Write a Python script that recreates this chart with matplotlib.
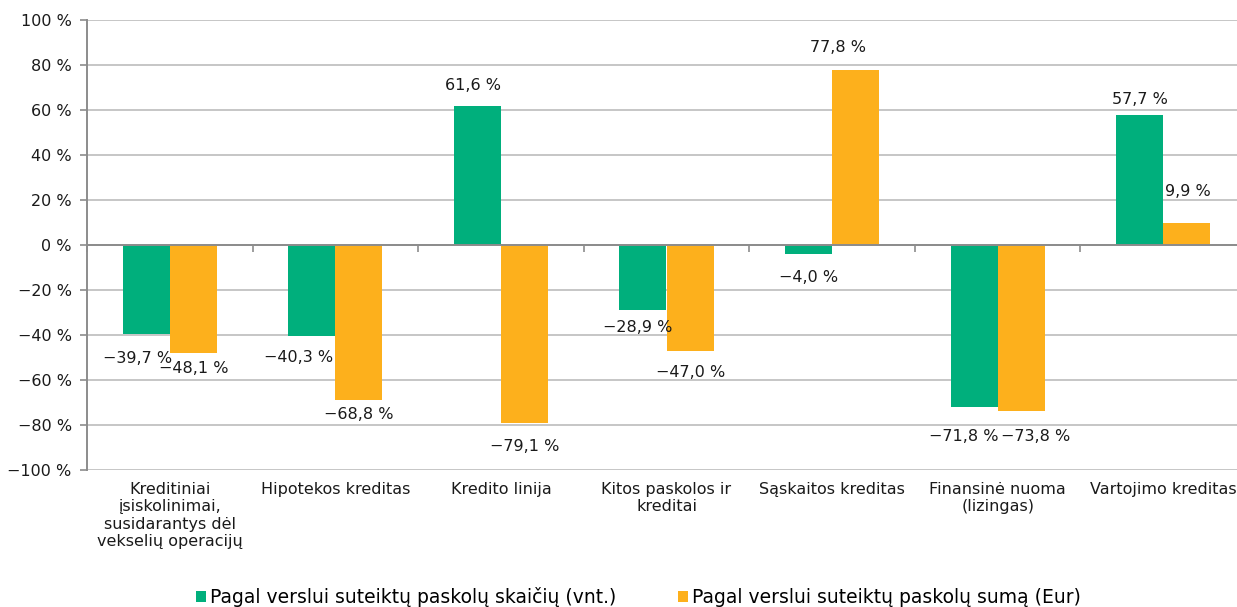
import matplotlib
matplotlib.use("Agg")
import matplotlib.pyplot as plt
import numpy as np

categories = [
    "Kreditiniai\nįsiskolinimai,\nsusidarantys dėl\nvekselių operacijų",
    "Hipotekos kreditas",
    "Kredito linija",
    "Kitos paskolos ir\nkreditai",
    "Sąskaitos kreditas",
    "Finansinė nuoma\n(lizingas)",
    "Vartojimo kreditas",
]
count_values = [-39.7, -40.3, 61.6, -28.9, -4.0, -71.8, 57.7]
sum_values = [-48.1, -68.8, -79.1, -47.0, 77.8, -73.8, 9.9]
series_names = [
    "Pagal verslui suteiktų paskolų skaičių (vnt.)",
    "Pagal verslui suteiktų paskolų sumą (Eur)",
]
yticks = [-100, -80, -60, -40, -20, 0, 20, 40, 60, 80, 100]

GREEN = "#00AF7C"
ORANGE = "#FDB01C"

# label nudges in pixels (dx, dy) relative to bar end, dy positive = away from bar
count_nudge = [(-9, 24), (-13, 22), (-4, 21), (-5, 17), (0, 23), (-10, 30), (0, 16)]
sum_nudge = [(0, 15), (0, 15), (0, 24), (1, 22), (-18, 22), (14, 25), (1, 31)]

plt.rcParams["font.family"] = ["DejaVu Sans"]

fig = plt.figure(figsize=(12.37, 6.07), dpi=100)
ax = fig.add_axes([87 / 1237, 1 - 470 / 607, (1246 - 87) / 1237, 450 / 607])

x = np.arange(len(categories))
w = 0.284
b1 = ax.bar(x - w / 2, count_values, w, color=GREEN, label=series_names[0], zorder=3)
b2 = ax.bar(x + w / 2, sum_values, w, color=ORANGE, label=series_names[1], zorder=3)


def fmt(v):
    s = f"{abs(v):.1f}".replace(".", ",") + " %"
    return ("\u2212" + s) if v < 0 else s


for vals, offs, shift in ((count_values, count_nudge, -w / 2), (sum_values, sum_nudge, w / 2)):
    for i, v in enumerate(vals):
        dx, dy = offs[i]
        sign = 1 if v >= 0 else -1
        ax.annotate(fmt(v), xy=(i + shift, v), xytext=(dx, sign * dy),
                    textcoords="offset pixels", ha="center", va="center",
                    fontsize=11.5, color="#1a1a1a", zorder=5)

ax.set_xlim(-0.5, len(categories) - 0.5)
ax.set_ylim(-100, 100)
ax.set_yticks(yticks)
ax.set_yticklabels([(("\u2212" + str(abs(t))) if t < 0 else str(t)) + " %" for t in yticks],
                   fontsize=11.5, color="#1a1a1a")
ax.yaxis.grid(True, color="#c6c6c6", linewidth=1.4, zorder=0)
ax.set_axisbelow(True)

for s in ("top", "right"):
    ax.spines[s].set_visible(False)
ax.spines["left"].set_color("#8c8c8c")
ax.spines["left"].set_linewidth(1.4)
ax.spines["bottom"].set_position(("data", 0))
ax.spines["bottom"].set_color("#8c8c8c")
ax.spines["bottom"].set_linewidth(1.4)
ax.spines["bottom"].set_zorder(4)

ax.tick_params(axis="y", direction="out", length=5, color="#8c8c8c", width=1.2, pad=6)
ax.set_xticks(np.arange(len(categories) + 1) - 0.5)
ax.set_xticklabels([])
ax.tick_params(axis="x", direction="out", length=5, color="#8c8c8c", width=1.2)

for i, c in enumerate(categories):
    ax.annotate(c, xy=(i, 0), xycoords=("data", "axes fraction"), xytext=(0, -12),
                textcoords="offset pixels", ha="center", va="top", fontsize=11.5,
                color="#1a1a1a", linespacing=1.2, annotation_clip=False)

fig.legend(handles=[b1, b2], loc="center", bbox_to_anchor=(0.516, 1 - 597 / 607),
           ncol=2, frameon=False, fontsize=13.5, handlelength=0.55, handleheight=0.55,
           handletextpad=0.2, columnspacing=3.3)

fig.savefig("out.png", dpi=100)
